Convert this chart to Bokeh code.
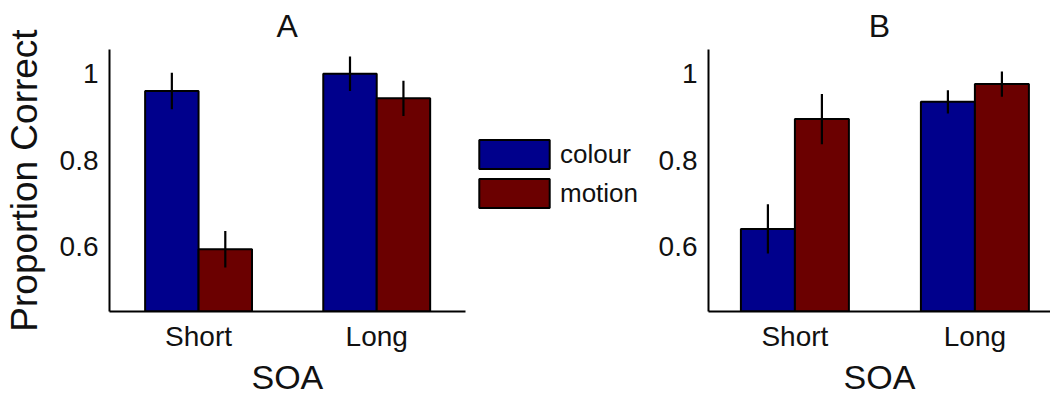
from bokeh.plotting import figure
from bokeh.models import Legend, LegendItem, FixedTicker, ColumnDataSource, Range1d, Title
from bokeh.layouts import row
from bokeh.embed import file_html
from bokeh.resources import INLINE

categories = ["Short", "Long"]
series = ["colour", "motion"]
a_colour = [0.96, 1.0]
a_motion = [0.594, 0.943]
a_colour_err = [0.042, 0.040]
a_motion_err = [0.042, 0.041]
b_colour = [0.641, 0.935]
b_motion = [0.895, 0.976]
b_colour_err = [0.057, 0.027]
b_motion_err = [0.058, 0.029]
y_ticks = [0.6, 0.8, 1.0]
y_tick_labels = ["0.6", "0.8", "1"]
titles = ["A", "B"]
x_label = "SOA"
y_label = "Proportion Correct"

FONT = "Liberation Sans"
BLUE = "#00008c"
RED = "#6b0000"
Y0, Y1 = 0.45, 1.056
BW = 0.3


def make_panel(title, colour, motion, cerr, merr, xr, bounds, fw, mbl, show_ylabel,
               t_align, t_offset, x_offset):
    p = figure(frame_width=fw, frame_height=262, x_range=Range1d(*xr), y_range=Range1d(Y0, Y1),
               output_backend="svg", toolbar_location=None,
               min_border_left=mbl, min_border_right=0, min_border_top=0, min_border_bottom=0)
    p.outline_line_color = None
    p.grid.visible = False
    p.background_fill_color = None
    p.border_fill_color = None
    xs = list(range(1, len(categories) + 1))
    src_c = ColumnDataSource(dict(x=[x - BW / 2 for x in xs], top=colour,
                                  lo=[v - e for v, e in zip(colour, cerr)],
                                  hi=[v + e for v, e in zip(colour, cerr)]))
    src_m = ColumnDataSource(dict(x=[x + BW / 2 for x in xs], top=motion,
                                  lo=[v - e for v, e in zip(motion, merr)],
                                  hi=[v + e for v, e in zip(motion, merr)]))
    rc = p.vbar(x="x", top="top", bottom=Y0, width=BW, source=src_c, fill_color=BLUE,
                line_color="black", line_width=2)
    rm = p.vbar(x="x", top="top", bottom=Y0, width=BW, source=src_m, fill_color=RED,
                line_color="black", line_width=2)
    for s in (src_c, src_m):
        p.segment(x0="x", x1="x", y0="lo", y1="hi", source=s, line_color="black", line_width=2.2)

    p.xaxis.ticker = FixedTicker(ticks=xs)
    p.xaxis.major_label_overrides = {x: c for x, c in zip(xs, categories)}
    if bounds is not None:
        p.xaxis.bounds = bounds
    p.yaxis.ticker = FixedTicker(ticks=y_ticks)
    p.yaxis.major_label_overrides = {t: l for t, l in zip(y_ticks, y_tick_labels)}
    for ax in (p.xaxis[0], p.yaxis[0]):
        ax.major_tick_line_color = None
        ax.minor_tick_line_color = None
        ax.axis_line_width = 2
        ax.axis_line_color = "black"
        ax.major_label_text_font = FONT
        ax.major_label_text_font_size = "28px"
        ax.major_label_text_color = "#111111"
        ax.axis_label_text_font = FONT
        ax.axis_label_text_font_style = "normal"
        ax.axis_label_text_color = "#111111"
    p.xaxis.major_label_standoff = 3
    p.yaxis.major_label_standoff = 5
    if show_ylabel:
        p.yaxis.axis_label = y_label
        p.yaxis.axis_label_text_font_size = "37px"
        p.yaxis.axis_label_standoff = 12
    p.title.text = title
    p.title.text_font = FONT
    p.title.text_font_size = "32px"
    p.title.text_font_style = "normal"
    p.title.text_color = "#111111"
    p.title.standoff = 11
    p.title.align = t_align
    p.title.offset = t_offset
    xl = Title(text=x_label, align=t_align, offset=x_offset, text_font=FONT,
               text_font_size="34px", text_font_style="normal", text_color="#111111",
               standoff=2)
    p.add_layout(xl, "below")
    return p, rc, rm


pA, rc, rm = make_panel(titles[0], a_colour, a_motion, a_colour_err, a_motion_err,
                        (0.5, 3.52), (0.5, 2.5), 538, 0, True, "left", 167, 142)
legend = Legend(items=[LegendItem(label=series[0], renderers=[rc]),
                       LegendItem(label=series[1], renderers=[rm])],
                location=(361, 100), glyph_width=88, glyph_height=36, spacing=3,
                label_standoff=2, padding=0, margin=0, border_line_color=None,
                background_fill_alpha=0, label_text_font=FONT, label_text_font_size="26px",
                label_text_color="#111111", label_height=36)
pA.add_layout(legend)

pB, _, _ = make_panel(titles[1], b_colour, b_motion, b_colour_err, b_motion_err,
                      (0.52, 2.42), None, 342, 61, False, "center", 0, 0)

layout = row(pA, pB, spacing=0)
open("out.html", "w").write(file_html(layout, INLINE))
